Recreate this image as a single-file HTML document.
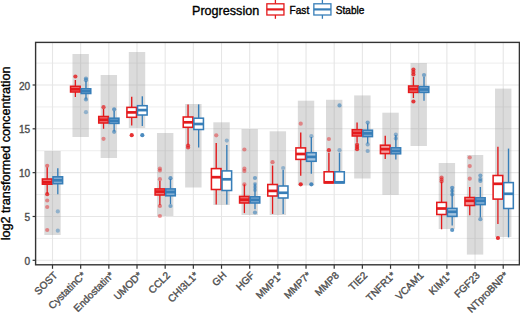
<!DOCTYPE html><html><head><meta charset="utf-8"><style>html,body{margin:0;padding:0;background:#fff;}svg{display:block;}text{font-family:"Liberation Sans",sans-serif;} .t{stroke-width:0.35px;}</style></head><body>
<svg width="520" height="313" viewBox="0 0 520 313">
<rect x="0" y="0" width="520" height="313" fill="#fff"/>
<line x1="35.6" x2="519.4" y1="238.39" y2="238.39" stroke="#EBEBEB" stroke-width="0.9"/><line x1="35.6" x2="519.4" y1="194.56" y2="194.56" stroke="#EBEBEB" stroke-width="0.9"/><line x1="35.6" x2="519.4" y1="150.74" y2="150.74" stroke="#EBEBEB" stroke-width="0.9"/><line x1="35.6" x2="519.4" y1="106.91" y2="106.91" stroke="#EBEBEB" stroke-width="0.9"/><line x1="35.6" x2="519.4" y1="63.09" y2="63.09" stroke="#EBEBEB" stroke-width="0.9"/><line x1="35.6" x2="519.4" y1="260.30" y2="260.30" stroke="#E6E6E6" stroke-width="1.1"/><line x1="35.6" x2="519.4" y1="216.48" y2="216.48" stroke="#E6E6E6" stroke-width="1.1"/><line x1="35.6" x2="519.4" y1="172.65" y2="172.65" stroke="#E6E6E6" stroke-width="1.1"/><line x1="35.6" x2="519.4" y1="128.82" y2="128.82" stroke="#E6E6E6" stroke-width="1.1"/><line x1="35.6" x2="519.4" y1="85.00" y2="85.00" stroke="#E6E6E6" stroke-width="1.1"/><line y1="42.4" y2="264.8" x1="52.50" x2="52.50" stroke="#E6E6E6" stroke-width="1.1"/><line y1="42.4" y2="264.8" x1="80.67" x2="80.67" stroke="#E6E6E6" stroke-width="1.1"/><line y1="42.4" y2="264.8" x1="108.84" x2="108.84" stroke="#E6E6E6" stroke-width="1.1"/><line y1="42.4" y2="264.8" x1="137.01" x2="137.01" stroke="#E6E6E6" stroke-width="1.1"/><line y1="42.4" y2="264.8" x1="165.18" x2="165.18" stroke="#E6E6E6" stroke-width="1.1"/><line y1="42.4" y2="264.8" x1="193.35" x2="193.35" stroke="#E6E6E6" stroke-width="1.1"/><line y1="42.4" y2="264.8" x1="221.52" x2="221.52" stroke="#E6E6E6" stroke-width="1.1"/><line y1="42.4" y2="264.8" x1="249.69" x2="249.69" stroke="#E6E6E6" stroke-width="1.1"/><line y1="42.4" y2="264.8" x1="277.86" x2="277.86" stroke="#E6E6E6" stroke-width="1.1"/><line y1="42.4" y2="264.8" x1="306.03" x2="306.03" stroke="#E6E6E6" stroke-width="1.1"/><line y1="42.4" y2="264.8" x1="334.20" x2="334.20" stroke="#E6E6E6" stroke-width="1.1"/><line y1="42.4" y2="264.8" x1="362.37" x2="362.37" stroke="#E6E6E6" stroke-width="1.1"/><line y1="42.4" y2="264.8" x1="390.54" x2="390.54" stroke="#E6E6E6" stroke-width="1.1"/><line y1="42.4" y2="264.8" x1="418.71" x2="418.71" stroke="#E6E6E6" stroke-width="1.1"/><line y1="42.4" y2="264.8" x1="446.88" x2="446.88" stroke="#E6E6E6" stroke-width="1.1"/><line y1="42.4" y2="264.8" x1="475.05" x2="475.05" stroke="#E6E6E6" stroke-width="1.1"/><line y1="42.4" y2="264.8" x1="503.22" x2="503.22" stroke="#E6E6E6" stroke-width="1.1"/>
<rect x="44.30" y="151" width="16.4" height="84.00" fill="#999" fill-opacity="0.35"/>
<rect x="72.47" y="54" width="16.4" height="83.00" fill="#999" fill-opacity="0.35"/>
<rect x="100.64" y="75" width="16.4" height="83.00" fill="#999" fill-opacity="0.35"/>
<rect x="128.81" y="52" width="16.4" height="76.00" fill="#999" fill-opacity="0.35"/>
<rect x="156.98" y="133" width="16.4" height="83.00" fill="#999" fill-opacity="0.35"/>
<rect x="185.15" y="104" width="16.4" height="83.50" fill="#999" fill-opacity="0.35"/>
<rect x="213.32" y="122.3" width="16.4" height="82.70" fill="#999" fill-opacity="0.35"/>
<rect x="241.49" y="129" width="16.4" height="86.00" fill="#999" fill-opacity="0.35"/>
<rect x="269.66" y="131.3" width="16.4" height="83.70" fill="#999" fill-opacity="0.35"/>
<rect x="297.83" y="100.7" width="16.4" height="84.80" fill="#999" fill-opacity="0.35"/>
<rect x="326.00" y="99.8" width="16.4" height="82.70" fill="#999" fill-opacity="0.35"/>
<rect x="354.17" y="95.4" width="16.4" height="83.10" fill="#999" fill-opacity="0.35"/>
<rect x="382.34" y="112.7" width="16.4" height="82.10" fill="#999" fill-opacity="0.35"/>
<rect x="410.51" y="63" width="16.4" height="83.00" fill="#999" fill-opacity="0.35"/>
<rect x="438.68" y="163" width="16.4" height="66.00" fill="#999" fill-opacity="0.35"/>
<rect x="466.85" y="155" width="16.4" height="99.60" fill="#999" fill-opacity="0.35"/>
<rect x="495.02" y="88.6" width="16.4" height="148.40" fill="#999" fill-opacity="0.35"/>
<line x1="47.20" x2="47.20" y1="167.6" y2="179" stroke="#E41A1C" stroke-width="1.4"/><line x1="47.20" x2="47.20" y1="184.2" y2="193.8" stroke="#E41A1C" stroke-width="1.3"/><rect x="42.40" y="179" width="9.6" height="5.20" fill="#EE7274" stroke="#E41A1C" stroke-width="1.55"/><line x1="42.40" x2="52.00" y1="182.3" y2="182.3" stroke="#E41A1C" stroke-width="2.7"/><circle cx="47.20" cy="165.8" r="2.1" fill="#E41A1C" fill-opacity="0.5"/><circle cx="47.20" cy="194.2" r="2.1" fill="#E41A1C" fill-opacity="0.8"/><circle cx="47.20" cy="200.5" r="2.1" fill="#E41A1C" fill-opacity="0.45"/><circle cx="47.20" cy="207" r="2.1" fill="#E41A1C" fill-opacity="0.45"/><circle cx="47.20" cy="230" r="2.1" fill="#E41A1C" fill-opacity="0.45"/>
<line x1="57.80" x2="57.80" y1="168.3" y2="176.8" stroke="#377EB8" stroke-width="1.4"/><line x1="57.80" x2="57.80" y1="183.7" y2="194.2" stroke="#377EB8" stroke-width="1.3"/><rect x="53.00" y="176.8" width="9.6" height="6.90" fill="#82AED4" stroke="#377EB8" stroke-width="1.55"/><line x1="53.00" x2="62.60" y1="180.3" y2="180.3" stroke="#377EB8" stroke-width="2.7"/><circle cx="57.80" cy="211.4" r="2.1" fill="#377EB8" fill-opacity="0.45"/><circle cx="57.80" cy="230.7" r="2.1" fill="#377EB8" fill-opacity="0.45"/>
<line x1="75.37" x2="75.37" y1="80" y2="86.3" stroke="#E41A1C" stroke-width="1.4"/><line x1="75.37" x2="75.37" y1="92.0" y2="97" stroke="#E41A1C" stroke-width="1.3"/><rect x="70.57" y="86.3" width="9.6" height="5.70" fill="#EE7274" stroke="#E41A1C" stroke-width="1.55"/><line x1="70.57" x2="80.17" y1="89.3" y2="89.3" stroke="#E41A1C" stroke-width="2.7"/><circle cx="75.37" cy="76.5" r="2.1" fill="#E41A1C" fill-opacity="0.8"/>
<line x1="85.97" x2="85.97" y1="81" y2="88.8" stroke="#377EB8" stroke-width="1.4"/><line x1="85.97" x2="85.97" y1="93.5" y2="99.4" stroke="#377EB8" stroke-width="1.3"/><rect x="81.17" y="88.8" width="9.6" height="4.70" fill="#82AED4" stroke="#377EB8" stroke-width="1.55"/><line x1="81.17" x2="90.77" y1="91.2" y2="91.2" stroke="#377EB8" stroke-width="2.7"/><circle cx="85.97" cy="78.6" r="2.1" fill="#377EB8" fill-opacity="0.6"/><circle cx="85.97" cy="80.2" r="2.1" fill="#377EB8" fill-opacity="0.6"/><circle cx="85.97" cy="99.4" r="2.1" fill="#377EB8" fill-opacity="0.6"/><circle cx="85.97" cy="112.2" r="2.1" fill="#377EB8" fill-opacity="0.45"/>
<line x1="103.54" x2="103.54" y1="109" y2="116.5" stroke="#E41A1C" stroke-width="1.4"/><line x1="103.54" x2="103.54" y1="123" y2="128.8" stroke="#E41A1C" stroke-width="1.3"/><rect x="98.74" y="116.5" width="9.6" height="6.50" fill="#EE7274" stroke="#E41A1C" stroke-width="1.55"/><line x1="98.74" x2="108.34" y1="119.8" y2="119.8" stroke="#E41A1C" stroke-width="2.7"/><circle cx="103.54" cy="107.2" r="2.1" fill="#E41A1C" fill-opacity="0.7"/><circle cx="103.54" cy="138.8" r="2.1" fill="#E41A1C" fill-opacity="0.45"/>
<line x1="114.14" x2="114.14" y1="111" y2="118.2" stroke="#377EB8" stroke-width="1.4"/><line x1="114.14" x2="114.14" y1="123.4" y2="131.5" stroke="#377EB8" stroke-width="1.3"/><rect x="109.34" y="118.2" width="9.6" height="5.20" fill="#82AED4" stroke="#377EB8" stroke-width="1.55"/><line x1="109.34" x2="118.94" y1="120.8" y2="120.8" stroke="#377EB8" stroke-width="2.7"/><circle cx="114.14" cy="109.3" r="2.1" fill="#377EB8" fill-opacity="0.7"/><circle cx="114.14" cy="131.8" r="2.1" fill="#377EB8" fill-opacity="0.6"/>
<line x1="131.71" x2="131.71" y1="96.7" y2="107.4" stroke="#E41A1C" stroke-width="1.4"/><line x1="131.71" x2="131.71" y1="117.3" y2="125.6" stroke="#E41A1C" stroke-width="1.3"/><rect x="126.91" y="107.4" width="9.6" height="9.90" fill="#fff" stroke="#E41A1C" stroke-width="1.55"/><line x1="126.91" x2="136.51" y1="112.4" y2="112.4" stroke="#E41A1C" stroke-width="2.7"/><circle cx="131.71" cy="135.2" r="2.1" fill="#E41A1C" fill-opacity="0.9"/>
<line x1="142.31" x2="142.31" y1="96.3" y2="105.7" stroke="#377EB8" stroke-width="1.4"/><line x1="142.31" x2="142.31" y1="115" y2="126" stroke="#377EB8" stroke-width="1.3"/><rect x="137.51" y="105.7" width="9.6" height="9.30" fill="#fff" stroke="#377EB8" stroke-width="1.55"/><line x1="137.51" x2="147.11" y1="110.1" y2="110.1" stroke="#377EB8" stroke-width="2.7"/><circle cx="142.31" cy="135.2" r="2.1" fill="#377EB8" fill-opacity="0.9"/>
<line x1="159.88" x2="159.88" y1="181" y2="188.9" stroke="#E41A1C" stroke-width="1.4"/><line x1="159.88" x2="159.88" y1="195" y2="205" stroke="#E41A1C" stroke-width="1.3"/><rect x="155.08" y="188.9" width="9.6" height="6.10" fill="#EE7274" stroke="#E41A1C" stroke-width="1.55"/><line x1="155.08" x2="164.68" y1="191.6" y2="191.6" stroke="#E41A1C" stroke-width="2.7"/><circle cx="159.88" cy="168.6" r="2.1" fill="#E41A1C" fill-opacity="0.45"/><circle cx="159.88" cy="170.5" r="2.1" fill="#E41A1C" fill-opacity="0.45"/><circle cx="159.88" cy="179.2" r="2.1" fill="#E41A1C" fill-opacity="0.45"/><circle cx="159.88" cy="206" r="2.1" fill="#E41A1C" fill-opacity="0.5"/><circle cx="159.88" cy="216" r="2.1" fill="#E41A1C" fill-opacity="0.45"/>
<line x1="170.48" x2="170.48" y1="179" y2="188.9" stroke="#377EB8" stroke-width="1.4"/><line x1="170.48" x2="170.48" y1="195.8" y2="204" stroke="#377EB8" stroke-width="1.3"/><rect x="165.68" y="188.9" width="9.6" height="6.90" fill="#82AED4" stroke="#377EB8" stroke-width="1.55"/><line x1="165.68" x2="175.28" y1="192" y2="192" stroke="#377EB8" stroke-width="2.7"/><circle cx="170.48" cy="178.2" r="2.1" fill="#377EB8" fill-opacity="0.7"/><circle cx="170.48" cy="206" r="2.1" fill="#377EB8" fill-opacity="0.6"/>
<line x1="188.05" x2="188.05" y1="104.4" y2="117" stroke="#E41A1C" stroke-width="1.4"/><line x1="188.05" x2="188.05" y1="127.3" y2="145" stroke="#E41A1C" stroke-width="1.3"/><rect x="183.25" y="117" width="9.6" height="10.30" fill="#fff" stroke="#E41A1C" stroke-width="1.55"/><line x1="183.25" x2="192.85" y1="122.3" y2="122.3" stroke="#E41A1C" stroke-width="2.7"/><circle cx="188.05" cy="145.5" r="2.1" fill="#E41A1C" fill-opacity="0.7"/><circle cx="188.05" cy="147.5" r="2.1" fill="#E41A1C" fill-opacity="0.7"/>
<line x1="198.65" x2="198.65" y1="104.4" y2="118.2" stroke="#377EB8" stroke-width="1.4"/><line x1="198.65" x2="198.65" y1="129.5" y2="147.6" stroke="#377EB8" stroke-width="1.3"/><rect x="193.85" y="118.2" width="9.6" height="11.30" fill="#fff" stroke="#377EB8" stroke-width="1.55"/><line x1="193.85" x2="203.45" y1="124" y2="124" stroke="#377EB8" stroke-width="2.7"/>
<line x1="216.22" x2="216.22" y1="143.1" y2="168.6" stroke="#E41A1C" stroke-width="1.4"/><line x1="216.22" x2="216.22" y1="189.5" y2="204.6" stroke="#E41A1C" stroke-width="1.3"/><rect x="211.42" y="168.6" width="9.6" height="20.90" fill="#fff" stroke="#E41A1C" stroke-width="1.55"/><line x1="211.42" x2="221.02" y1="177.2" y2="177.2" stroke="#E41A1C" stroke-width="2.7"/><circle cx="216.22" cy="135.3" r="2.1" fill="#E41A1C" fill-opacity="0.45"/>
<line x1="226.82" x2="226.82" y1="145" y2="170.9" stroke="#377EB8" stroke-width="1.4"/><line x1="226.82" x2="226.82" y1="190.5" y2="204.6" stroke="#377EB8" stroke-width="1.3"/><rect x="222.02" y="170.9" width="9.6" height="19.60" fill="#fff" stroke="#377EB8" stroke-width="1.55"/><line x1="222.02" x2="231.62" y1="179.3" y2="179.3" stroke="#377EB8" stroke-width="2.7"/><circle cx="226.82" cy="140.6" r="2.1" fill="#377EB8" fill-opacity="0.45"/>
<line x1="244.39" x2="244.39" y1="184.4" y2="196.4" stroke="#E41A1C" stroke-width="1.4"/><line x1="244.39" x2="244.39" y1="203" y2="213.1" stroke="#E41A1C" stroke-width="1.3"/><rect x="239.59" y="196.4" width="9.6" height="6.60" fill="#EE7274" stroke="#E41A1C" stroke-width="1.55"/><line x1="239.59" x2="249.19" y1="199.7" y2="199.7" stroke="#E41A1C" stroke-width="2.7"/><circle cx="244.39" cy="149.5" r="2.1" fill="#E41A1C" fill-opacity="0.45"/><circle cx="244.39" cy="168.7" r="2.1" fill="#E41A1C" fill-opacity="0.45"/><circle cx="244.39" cy="171" r="2.1" fill="#E41A1C" fill-opacity="0.45"/><circle cx="244.39" cy="184.4" r="2.1" fill="#E41A1C" fill-opacity="0.45"/>
<line x1="254.99" x2="254.99" y1="183.4" y2="196.8" stroke="#377EB8" stroke-width="1.4"/><line x1="254.99" x2="254.99" y1="203" y2="209.3" stroke="#377EB8" stroke-width="1.3"/><rect x="250.19" y="196.8" width="9.6" height="6.20" fill="#82AED4" stroke="#377EB8" stroke-width="1.55"/><line x1="250.19" x2="259.79" y1="199.9" y2="199.9" stroke="#377EB8" stroke-width="2.7"/><circle cx="254.99" cy="178" r="2.1" fill="#377EB8" fill-opacity="0.6"/><circle cx="254.99" cy="184" r="2.1" fill="#377EB8" fill-opacity="0.45"/><circle cx="254.99" cy="187" r="2.1" fill="#377EB8" fill-opacity="0.45"/><circle cx="254.99" cy="190" r="2.1" fill="#377EB8" fill-opacity="0.45"/><circle cx="254.99" cy="212.5" r="2.1" fill="#377EB8" fill-opacity="0.6"/>
<line x1="272.56" x2="272.56" y1="165.5" y2="184.5" stroke="#E41A1C" stroke-width="1.4"/><line x1="272.56" x2="272.56" y1="196" y2="213.9" stroke="#E41A1C" stroke-width="1.3"/><rect x="267.76" y="184.5" width="9.6" height="11.50" fill="#fff" stroke="#E41A1C" stroke-width="1.55"/><line x1="267.76" x2="277.36" y1="190.9" y2="190.9" stroke="#E41A1C" stroke-width="2.7"/><circle cx="272.56" cy="162.2" r="2.1" fill="#E41A1C" fill-opacity="0.5"/>
<line x1="283.16" x2="283.16" y1="170" y2="186" stroke="#377EB8" stroke-width="1.4"/><line x1="283.16" x2="283.16" y1="198" y2="213.9" stroke="#377EB8" stroke-width="1.3"/><rect x="278.36" y="186" width="9.6" height="12.00" fill="#fff" stroke="#377EB8" stroke-width="1.55"/><line x1="278.36" x2="287.96" y1="192.8" y2="192.8" stroke="#377EB8" stroke-width="2.7"/><circle cx="283.16" cy="168" r="2.1" fill="#377EB8" fill-opacity="0.45"/>
<line x1="300.73" x2="300.73" y1="132.4" y2="147.9" stroke="#E41A1C" stroke-width="1.4"/><line x1="300.73" x2="300.73" y1="159.4" y2="175.7" stroke="#E41A1C" stroke-width="1.3"/><rect x="295.93" y="147.9" width="9.6" height="11.50" fill="#fff" stroke="#E41A1C" stroke-width="1.55"/><line x1="295.93" x2="305.53" y1="154" y2="154" stroke="#E41A1C" stroke-width="2.7"/><circle cx="300.73" cy="123.7" r="2.1" fill="#E41A1C" fill-opacity="0.45"/><circle cx="300.73" cy="184.3" r="2.1" fill="#E41A1C" fill-opacity="0.9"/>
<line x1="311.33" x2="311.33" y1="137" y2="152.7" stroke="#377EB8" stroke-width="1.4"/><line x1="311.33" x2="311.33" y1="161.3" y2="173.7" stroke="#377EB8" stroke-width="1.3"/><rect x="306.53" y="152.7" width="9.6" height="8.60" fill="#A5C5E0" stroke="#377EB8" stroke-width="1.55"/><line x1="306.53" x2="316.13" y1="156.9" y2="156.9" stroke="#377EB8" stroke-width="2.7"/><circle cx="311.33" cy="136.2" r="2.1" fill="#377EB8" fill-opacity="0.45"/><circle cx="311.33" cy="184.3" r="2.1" fill="#377EB8" fill-opacity="0.9"/>
<line x1="328.90" x2="328.90" y1="152.7" y2="171.8" stroke="#E41A1C" stroke-width="1.4"/><rect x="324.10" y="171.8" width="9.6" height="11.10" fill="#fff" stroke="#E41A1C" stroke-width="1.55"/><line x1="324.10" x2="333.70" y1="182.3" y2="182.3" stroke="#E41A1C" stroke-width="2.7"/><circle cx="328.90" cy="139" r="2.1" fill="#E41A1C" fill-opacity="0.45"/><circle cx="328.90" cy="150.2" r="2.1" fill="#E41A1C" fill-opacity="0.8"/>
<line x1="339.50" x2="339.50" y1="152.7" y2="171.8" stroke="#377EB8" stroke-width="1.4"/><rect x="334.70" y="171.8" width="9.6" height="11.10" fill="#fff" stroke="#377EB8" stroke-width="1.55"/><line x1="334.70" x2="344.30" y1="182.3" y2="182.3" stroke="#377EB8" stroke-width="2.7"/><circle cx="339.50" cy="105.4" r="2.1" fill="#377EB8" fill-opacity="0.6"/><circle cx="339.50" cy="150.2" r="2.1" fill="#377EB8" fill-opacity="0.45"/>
<line x1="357.07" x2="357.07" y1="122.6" y2="129.7" stroke="#E41A1C" stroke-width="1.4"/><line x1="357.07" x2="357.07" y1="136" y2="142.7" stroke="#E41A1C" stroke-width="1.3"/><rect x="352.27" y="129.7" width="9.6" height="6.30" fill="#EE7274" stroke="#E41A1C" stroke-width="1.55"/><line x1="352.27" x2="361.87" y1="133" y2="133" stroke="#E41A1C" stroke-width="2.7"/><circle cx="357.07" cy="144.8" r="2.1" fill="#E41A1C" fill-opacity="0.8"/><circle cx="357.07" cy="147" r="2.1" fill="#E41A1C" fill-opacity="0.8"/><circle cx="357.07" cy="149.2" r="2.1" fill="#E41A1C" fill-opacity="0.8"/>
<line x1="367.67" x2="367.67" y1="123.5" y2="130.2" stroke="#377EB8" stroke-width="1.4"/><line x1="367.67" x2="367.67" y1="136.6" y2="143.6" stroke="#377EB8" stroke-width="1.3"/><rect x="362.87" y="130.2" width="9.6" height="6.40" fill="#82AED4" stroke="#377EB8" stroke-width="1.55"/><line x1="362.87" x2="372.47" y1="133.4" y2="133.4" stroke="#377EB8" stroke-width="2.7"/><circle cx="367.67" cy="122.6" r="2.1" fill="#377EB8" fill-opacity="0.6"/><circle cx="367.67" cy="144.4" r="2.1" fill="#377EB8" fill-opacity="0.5"/><circle cx="367.67" cy="151" r="2.1" fill="#377EB8" fill-opacity="0.5"/>
<line x1="385.24" x2="385.24" y1="135.7" y2="145.2" stroke="#E41A1C" stroke-width="1.4"/><line x1="385.24" x2="385.24" y1="153.6" y2="159" stroke="#E41A1C" stroke-width="1.3"/><rect x="380.44" y="145.2" width="9.6" height="8.40" fill="#F39C9D" stroke="#E41A1C" stroke-width="1.55"/><line x1="380.44" x2="390.04" y1="149.2" y2="149.2" stroke="#E41A1C" stroke-width="2.7"/>
<line x1="395.84" x2="395.84" y1="135" y2="147.8" stroke="#377EB8" stroke-width="1.4"/><line x1="395.84" x2="395.84" y1="153.8" y2="159.4" stroke="#377EB8" stroke-width="1.3"/><rect x="391.04" y="147.8" width="9.6" height="6.00" fill="#82AED4" stroke="#377EB8" stroke-width="1.55"/><line x1="391.04" x2="400.64" y1="151" y2="151" stroke="#377EB8" stroke-width="2.7"/><circle cx="395.84" cy="134.7" r="2.1" fill="#377EB8" fill-opacity="0.5"/><circle cx="395.84" cy="138.5" r="2.1" fill="#377EB8" fill-opacity="0.5"/>
<line x1="413.41" x2="413.41" y1="77" y2="86" stroke="#E41A1C" stroke-width="1.4"/><line x1="413.41" x2="413.41" y1="92.4" y2="98" stroke="#E41A1C" stroke-width="1.3"/><rect x="408.61" y="86" width="9.6" height="6.40" fill="#EE7274" stroke="#E41A1C" stroke-width="1.55"/><line x1="408.61" x2="418.21" y1="89.2" y2="89.2" stroke="#E41A1C" stroke-width="2.7"/><circle cx="413.41" cy="69.5" r="2.1" fill="#E41A1C" fill-opacity="0.8"/><circle cx="413.41" cy="72" r="2.1" fill="#E41A1C" fill-opacity="0.8"/><circle cx="413.41" cy="74.5" r="2.1" fill="#E41A1C" fill-opacity="0.8"/><circle cx="413.41" cy="101.5" r="2.1" fill="#E41A1C" fill-opacity="0.85"/>
<line x1="424.01" x2="424.01" y1="77" y2="86.6" stroke="#377EB8" stroke-width="1.4"/><line x1="424.01" x2="424.01" y1="92.4" y2="100.7" stroke="#377EB8" stroke-width="1.3"/><rect x="419.21" y="86.6" width="9.6" height="5.80" fill="#82AED4" stroke="#377EB8" stroke-width="1.55"/><line x1="419.21" x2="428.81" y1="89.5" y2="89.5" stroke="#377EB8" stroke-width="2.7"/><circle cx="424.01" cy="75.1" r="2.1" fill="#377EB8" fill-opacity="0.6"/>
<line x1="441.58" x2="441.58" y1="181.8" y2="202.4" stroke="#E41A1C" stroke-width="1.4"/><line x1="441.58" x2="441.58" y1="214.5" y2="229.3" stroke="#E41A1C" stroke-width="1.3"/><rect x="436.78" y="202.4" width="9.6" height="12.10" fill="#fff" stroke="#E41A1C" stroke-width="1.55"/><line x1="436.78" x2="446.38" y1="208.5" y2="208.5" stroke="#E41A1C" stroke-width="2.7"/><circle cx="441.58" cy="177.5" r="2.1" fill="#E41A1C" fill-opacity="0.6"/><circle cx="441.58" cy="179.5" r="2.1" fill="#E41A1C" fill-opacity="0.6"/><circle cx="441.58" cy="181.5" r="2.1" fill="#E41A1C" fill-opacity="0.6"/>
<line x1="452.18" x2="452.18" y1="188.5" y2="208.4" stroke="#377EB8" stroke-width="1.4"/><line x1="452.18" x2="452.18" y1="216.4" y2="225.5" stroke="#377EB8" stroke-width="1.3"/><rect x="447.38" y="208.4" width="9.6" height="8.00" fill="#A5C5E0" stroke="#377EB8" stroke-width="1.55"/><line x1="447.38" x2="456.98" y1="211.8" y2="211.8" stroke="#377EB8" stroke-width="2.7"/><circle cx="452.18" cy="187.8" r="2.1" fill="#377EB8" fill-opacity="0.7"/><circle cx="452.18" cy="191" r="2.1" fill="#377EB8" fill-opacity="0.6"/><circle cx="452.18" cy="194.5" r="2.1" fill="#377EB8" fill-opacity="0.6"/><circle cx="452.18" cy="230" r="2.1" fill="#377EB8" fill-opacity="0.8"/>
<line x1="469.75" x2="469.75" y1="187" y2="197.5" stroke="#E41A1C" stroke-width="1.4"/><line x1="469.75" x2="469.75" y1="205.5" y2="215.3" stroke="#E41A1C" stroke-width="1.3"/><rect x="464.95" y="197.5" width="9.6" height="8.00" fill="#F39C9D" stroke="#E41A1C" stroke-width="1.55"/><line x1="464.95" x2="474.55" y1="200.8" y2="200.8" stroke="#E41A1C" stroke-width="2.7"/><circle cx="469.75" cy="157.5" r="2.1" fill="#E41A1C" fill-opacity="0.45"/><circle cx="469.75" cy="166.1" r="2.1" fill="#E41A1C" fill-opacity="0.45"/><circle cx="469.75" cy="178.7" r="2.1" fill="#E41A1C" fill-opacity="0.45"/>
<line x1="480.35" x2="480.35" y1="187" y2="197.8" stroke="#377EB8" stroke-width="1.4"/><line x1="480.35" x2="480.35" y1="204.6" y2="217.2" stroke="#377EB8" stroke-width="1.3"/><rect x="475.55" y="197.8" width="9.6" height="6.80" fill="#82AED4" stroke="#377EB8" stroke-width="1.55"/><line x1="475.55" x2="485.15" y1="200.8" y2="200.8" stroke="#377EB8" stroke-width="2.7"/><circle cx="480.35" cy="175.5" r="2.1" fill="#377EB8" fill-opacity="0.6"/><circle cx="480.35" cy="179" r="2.1" fill="#377EB8" fill-opacity="0.6"/><circle cx="480.35" cy="181" r="2.1" fill="#377EB8" fill-opacity="0.6"/><circle cx="480.35" cy="219.2" r="2.1" fill="#377EB8" fill-opacity="0.6"/>
<line x1="497.92" x2="497.92" y1="146.7" y2="175.5" stroke="#E41A1C" stroke-width="1.4"/><line x1="497.92" x2="497.92" y1="199.1" y2="224" stroke="#E41A1C" stroke-width="1.3"/><rect x="493.12" y="175.5" width="9.6" height="23.60" fill="#fff" stroke="#E41A1C" stroke-width="1.55"/><line x1="493.12" x2="502.72" y1="183.8" y2="183.8" stroke="#E41A1C" stroke-width="2.7"/><circle cx="497.92" cy="238" r="2.1" fill="#E41A1C" fill-opacity="0.9"/>
<line x1="508.52" x2="508.52" y1="148.6" y2="182.6" stroke="#377EB8" stroke-width="1.4"/><line x1="508.52" x2="508.52" y1="208.5" y2="237.4" stroke="#377EB8" stroke-width="1.3"/><rect x="503.72" y="182.6" width="9.6" height="25.90" fill="#fff" stroke="#377EB8" stroke-width="1.55"/><line x1="503.72" x2="513.32" y1="193.8" y2="193.8" stroke="#377EB8" stroke-width="2.7"/>
<rect x="35.6" y="42.4" width="483.80" height="222.40" fill="none" stroke="#333" stroke-width="1.4"/>
<line x1="32.6" x2="35.6" y1="260.30" y2="260.30" stroke="#333" stroke-width="1.2"/>
<text x="30.2" y="264.80" font-size="10.1" fill="#4D4D4D" stroke="#4D4D4D" class="t" text-anchor="end">0</text>
<line x1="32.6" x2="35.6" y1="216.48" y2="216.48" stroke="#333" stroke-width="1.2"/>
<text x="30.2" y="220.98" font-size="10.1" fill="#4D4D4D" stroke="#4D4D4D" class="t" text-anchor="end">5</text>
<line x1="32.6" x2="35.6" y1="172.65" y2="172.65" stroke="#333" stroke-width="1.2"/>
<text x="30.2" y="177.15" font-size="10.1" fill="#4D4D4D" stroke="#4D4D4D" class="t" text-anchor="end">10</text>
<line x1="32.6" x2="35.6" y1="128.82" y2="128.82" stroke="#333" stroke-width="1.2"/>
<text x="30.2" y="133.32" font-size="10.1" fill="#4D4D4D" stroke="#4D4D4D" class="t" text-anchor="end">15</text>
<line x1="32.6" x2="35.6" y1="85.00" y2="85.00" stroke="#333" stroke-width="1.2"/>
<text x="30.2" y="89.50" font-size="10.1" fill="#4D4D4D" stroke="#4D4D4D" class="t" text-anchor="end">20</text>
<line x1="52.50" x2="52.50" y1="264.8" y2="268.8" stroke="#333" stroke-width="1.2"/>
<text transform="translate(52.90,270.8) rotate(-45)" font-size="10.1" fill="#4D4D4D" stroke="#4D4D4D" class="t" text-anchor="end" dy="0.72em">SOST</text>
<line x1="80.67" x2="80.67" y1="264.8" y2="268.8" stroke="#333" stroke-width="1.2"/>
<text transform="translate(81.07,270.8) rotate(-45)" font-size="10.1" fill="#4D4D4D" stroke="#4D4D4D" class="t" text-anchor="end" dy="0.72em">CystatinC*</text>
<line x1="108.84" x2="108.84" y1="264.8" y2="268.8" stroke="#333" stroke-width="1.2"/>
<text transform="translate(109.24,270.8) rotate(-45)" font-size="10.1" fill="#4D4D4D" stroke="#4D4D4D" class="t" text-anchor="end" dy="0.72em">Endostatin*</text>
<line x1="137.01" x2="137.01" y1="264.8" y2="268.8" stroke="#333" stroke-width="1.2"/>
<text transform="translate(137.41,270.8) rotate(-45)" font-size="10.1" fill="#4D4D4D" stroke="#4D4D4D" class="t" text-anchor="end" dy="0.72em">UMOD*</text>
<line x1="165.18" x2="165.18" y1="264.8" y2="268.8" stroke="#333" stroke-width="1.2"/>
<text transform="translate(165.58,270.8) rotate(-45)" font-size="10.1" fill="#4D4D4D" stroke="#4D4D4D" class="t" text-anchor="end" dy="0.72em">CCL2</text>
<line x1="193.35" x2="193.35" y1="264.8" y2="268.8" stroke="#333" stroke-width="1.2"/>
<text transform="translate(193.75,270.8) rotate(-45)" font-size="10.1" fill="#4D4D4D" stroke="#4D4D4D" class="t" text-anchor="end" dy="0.72em">CHI3L1*</text>
<line x1="221.52" x2="221.52" y1="264.8" y2="268.8" stroke="#333" stroke-width="1.2"/>
<text transform="translate(221.92,270.8) rotate(-45)" font-size="10.1" fill="#4D4D4D" stroke="#4D4D4D" class="t" text-anchor="end" dy="0.72em">GH</text>
<line x1="249.69" x2="249.69" y1="264.8" y2="268.8" stroke="#333" stroke-width="1.2"/>
<text transform="translate(250.09,270.8) rotate(-45)" font-size="10.1" fill="#4D4D4D" stroke="#4D4D4D" class="t" text-anchor="end" dy="0.72em">HGF</text>
<line x1="277.86" x2="277.86" y1="264.8" y2="268.8" stroke="#333" stroke-width="1.2"/>
<text transform="translate(278.26,270.8) rotate(-45)" font-size="10.1" fill="#4D4D4D" stroke="#4D4D4D" class="t" text-anchor="end" dy="0.72em">MMP1*</text>
<line x1="306.03" x2="306.03" y1="264.8" y2="268.8" stroke="#333" stroke-width="1.2"/>
<text transform="translate(306.43,270.8) rotate(-45)" font-size="10.1" fill="#4D4D4D" stroke="#4D4D4D" class="t" text-anchor="end" dy="0.72em">MMP7*</text>
<line x1="334.20" x2="334.20" y1="264.8" y2="268.8" stroke="#333" stroke-width="1.2"/>
<text transform="translate(334.60,270.8) rotate(-45)" font-size="10.1" fill="#4D4D4D" stroke="#4D4D4D" class="t" text-anchor="end" dy="0.72em">MMP8</text>
<line x1="362.37" x2="362.37" y1="264.8" y2="268.8" stroke="#333" stroke-width="1.2"/>
<text transform="translate(362.77,270.8) rotate(-45)" font-size="10.1" fill="#4D4D4D" stroke="#4D4D4D" class="t" text-anchor="end" dy="0.72em">TIE2</text>
<line x1="390.54" x2="390.54" y1="264.8" y2="268.8" stroke="#333" stroke-width="1.2"/>
<text transform="translate(390.94,270.8) rotate(-45)" font-size="10.1" fill="#4D4D4D" stroke="#4D4D4D" class="t" text-anchor="end" dy="0.72em">TNFR1*</text>
<line x1="418.71" x2="418.71" y1="264.8" y2="268.8" stroke="#333" stroke-width="1.2"/>
<text transform="translate(419.11,270.8) rotate(-45)" font-size="10.1" fill="#4D4D4D" stroke="#4D4D4D" class="t" text-anchor="end" dy="0.72em">VCAM1</text>
<line x1="446.88" x2="446.88" y1="264.8" y2="268.8" stroke="#333" stroke-width="1.2"/>
<text transform="translate(447.28,270.8) rotate(-45)" font-size="10.1" fill="#4D4D4D" stroke="#4D4D4D" class="t" text-anchor="end" dy="0.72em">KIM1*</text>
<line x1="475.05" x2="475.05" y1="264.8" y2="268.8" stroke="#333" stroke-width="1.2"/>
<text transform="translate(475.45,270.8) rotate(-45)" font-size="10.1" fill="#4D4D4D" stroke="#4D4D4D" class="t" text-anchor="end" dy="0.72em">FGF23</text>
<line x1="503.22" x2="503.22" y1="264.8" y2="268.8" stroke="#333" stroke-width="1.2"/>
<text transform="translate(503.62,270.8) rotate(-45)" font-size="10.1" fill="#4D4D4D" stroke="#4D4D4D" class="t" text-anchor="end" dy="0.72em">NTproBNP*</text>
<text transform="translate(10.2,153.4) rotate(-90)" font-size="12.6" fill="#000" stroke="#000" class="t" text-anchor="middle">log2 transformed concentration</text>
<text x="192" y="14.5" font-size="12.6" fill="#000" stroke="#000" class="t">Progression</text>
<line x1="275.4" x2="275.4" y1="0" y2="3.8" stroke="#E41A1C" stroke-width="1.3"/><line x1="275.4" x2="275.4" y1="15" y2="18.8" stroke="#E41A1C" stroke-width="1.3"/><rect x="266.84999999999997" y="3.8" width="17.1" height="11.2" fill="#fff" stroke="#E41A1C" stroke-width="1.3"/><line x1="266.84999999999997" x2="283.95" y1="9.4" y2="9.4" stroke="#E41A1C" stroke-width="2.2"/>
<text x="289.6" y="13.8" font-size="10.1" fill="#000" stroke="#000" class="t">Fast</text>
<line x1="322.4" x2="322.4" y1="0" y2="3.8" stroke="#377EB8" stroke-width="1.3"/><line x1="322.4" x2="322.4" y1="15" y2="18.8" stroke="#377EB8" stroke-width="1.3"/><rect x="313.84999999999997" y="3.8" width="17.1" height="11.2" fill="#fff" stroke="#377EB8" stroke-width="1.3"/><line x1="313.84999999999997" x2="330.95" y1="9.4" y2="9.4" stroke="#377EB8" stroke-width="2.2"/>
<text x="335.8" y="13.8" font-size="10.1" fill="#000" stroke="#000" class="t">Stable</text>
</svg></body></html>
